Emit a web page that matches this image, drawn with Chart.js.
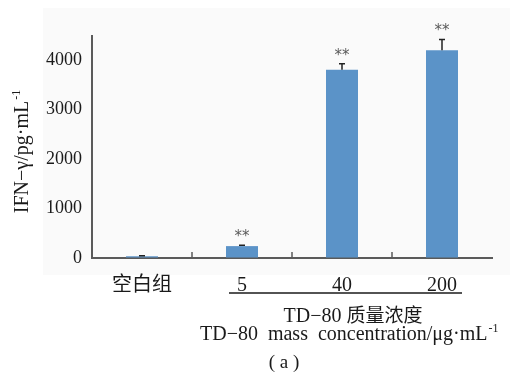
<!DOCTYPE html>
<html lang="zh">
<head>
<meta charset="UTF-8">
<title>IFN-γ</title>
<script src="https://cdn.jsdelivr.net/npm/chart.js"></script>
<style>
    html, body { margin: 0; padding: 0; background: #fff; }
    #wrap { width: 510px; height: 374px; position: relative; }
</style>
</head>
<body>
<div id="wrap"><canvas id="c"></canvas></div>
<script>
// data
const categories = ['空白组', '5', '40', '200'];
const ifnValues = [35, 240, 3800, 4190];
const ifnErrors = [10, 15, 120, 220];
const marks = ['', '**', '**', '**'];
const yTicks = [0, 1000, 2000, 3000, 4000];

const SERIF = '"Liberation Serif", "Noto Sans CJK SC", serif';
const CJK = '"Noto Sans CJK SC", sans-serif';
const BAR = '#5b93c8';
const AXIS = '#5a5a5a';

// text with a "-1" superscript at the end
function supText(ctx, text, sup, x, y, size, align) {
    ctx.font = size + 'px ' + SERIF;
    const w = ctx.measureText(text).width;
    ctx.font = Math.round(size * 0.6) + 'px ' + SERIF;
    const ws = ctx.measureText(sup).width;
    let left = x;
    if (align === 'center') left = x - (w + ws) / 2;
    ctx.textAlign = 'left';
    ctx.textBaseline = 'alphabetic';
    ctx.font = size + 'px ' + SERIF;
    ctx.fillText(text, left, y);
    ctx.font = Math.round(size * 0.6) + 'px ' + SERIF;
    ctx.fillText(sup, left + w + 1, y - size * 0.42);
}

const extras = {
    id: 'extras',
    beforeDraw(chart) {
        const ctx = chart.ctx;
        ctx.save();
        ctx.fillStyle = '#fafafa';
        ctx.fillRect(43, 8, 467, 267);
        ctx.restore();
    },
    afterDatasetsDraw(chart) {
        const ctx = chart.ctx;
        const x = chart.scales.x, y = chart.scales.y;
        ctx.save();
        // error bars + significance marks
        ifnValues.forEach((v, i) => {
            const cx = x.getPixelForValue(i);
            const top = y.getPixelForValue(v + ifnErrors[i]);
            const base = y.getPixelForValue(v);
            ctx.strokeStyle = '#222';
            ctx.lineWidth = 1.5;
            ctx.beginPath();
            ctx.moveTo(cx, base);
            ctx.lineTo(cx, top);
            ctx.moveTo(cx - 3, top);
            ctx.lineTo(cx + 3, top);
            ctx.stroke();
            if (marks[i]) {
                ctx.fillStyle = '#5a5a5a';
                ctx.font = '15px "DejaVu Sans", sans-serif';
                ctx.textAlign = 'center';
                ctx.textBaseline = 'middle';
                ctx.fillText(marks[i], cx, top - 8);
            }
        });
        // inward tick marks between categories
        ctx.strokeStyle = AXIS;
        ctx.lineWidth = 1.5;
        for (let i = 0; i < categories.length - 1; i++) {
            const tx = (x.getPixelForValue(i) + x.getPixelForValue(i + 1)) / 2;
            ctx.beginPath();
            ctx.moveTo(tx, y.bottom);
            ctx.lineTo(tx, y.bottom - 6);
            ctx.stroke();
        }
        ctx.restore();
    },
    afterDraw(chart) {
        const ctx = chart.ctx;
        const x = chart.scales.x;
        ctx.save();
        ctx.fillStyle = '#1a1a1a';
        // y axis title
        ctx.save();
        ctx.translate(28, 152);
        ctx.rotate(-Math.PI / 2);
        supText(ctx, 'IFN−γ/pg·mL', '-1', 0, 0, 20, 'center');
        ctx.restore();
        // bracket line under the TD-80 groups
        ctx.strokeStyle = '#1a1a1a';
        ctx.lineWidth = 1.3;
        ctx.beginPath();
        ctx.moveTo(x.getPixelForValue(1) - 13, 293);
        ctx.lineTo(x.getPixelForValue(3) + 20, 293);
        ctx.stroke();
        // "TD−80 质量浓度" in two runs so the latin part stays serif
        ctx.textBaseline = 'alphabetic';
        ctx.textAlign = 'left';
        ctx.font = '20px ' + SERIF;
        const p1 = 'TD−80 ';
        const w1 = ctx.measureText(p1).width;
        ctx.font = '19px ' + CJK;
        const p2 = '质量浓度';
        const w2 = ctx.measureText(p2).width;
        const left = 353 - (w1 + w2) / 2;
        ctx.font = '20px ' + SERIF;
        ctx.fillText(p1, left, 322);
        ctx.font = '19px ' + CJK;
        ctx.fillText(p2, left + w1, 322);
        supText(ctx, 'TD−80  mass  concentration/μg·mL', '-1', 200, 340, 20, 'left');
        ctx.font = '19px ' + SERIF;
        ctx.textAlign = 'center';
        ctx.textBaseline = 'middle';
        ctx.fillText('( a )', 284, 363);
        ctx.restore();
    }
};

new Chart(document.getElementById('c'), {
    type: 'bar',
    data: {
        labels: categories,
        datasets: [{
            data: ifnValues,
            backgroundColor: BAR,
            borderWidth: 0,
            barPercentage: 0.32,
            categoryPercentage: 1.0
        }]
    },
    options: {
        responsive: true,
        maintainAspectRatio: false,
        animation: false,
        layout: { padding: { left: 0, right: 18, top: 36, bottom: 0 } },
        plugins: {
            legend: { display: false },
            tooltip: { enabled: false }
        },
        scales: {
            x: {
                grid: { display: true, drawOnChartArea: false, drawTicks: false },
                border: { display: true, color: AXIS, width: 2 },
                ticks: {
                    color: '#1a1a1a',
                    padding: 16,
                    font: { family: SERIF, size: 20 }
                },
                afterFit(scale) { scale.height = 116; }
            },
            y: {
                min: 0,
                max: 4480,
                grid: { display: true, drawOnChartArea: false, drawTicks: false },
                border: { display: true, color: AXIS, width: 2 },
                afterBuildTicks(scale) { scale.ticks = yTicks.map(v => ({ value: v })); },
                ticks: {
                    color: '#1a1a1a',
                    padding: 10,
                    font: { family: SERIF, size: 18 },
                    callback: v => String(v)
                },
                afterFit(scale) { scale.width = 92; }
            }
        }
    },
    plugins: [extras]
});
</script>
</body>
</html>
